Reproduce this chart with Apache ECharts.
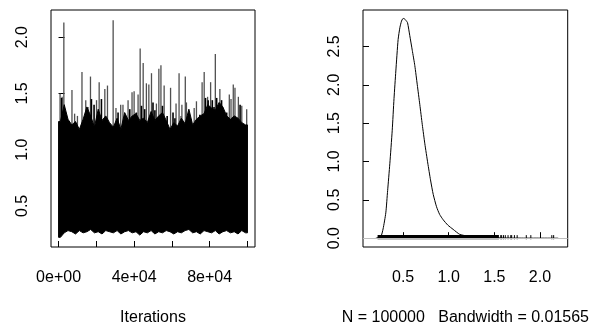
<!DOCTYPE html>
<html><head><meta charset="utf-8">
<script src="https://cdn.jsdelivr.net/npm/echarts@6/dist/echarts.min.js"></script>
<style>html,body{margin:0;padding:0;background:#fff}#c{width:592px;height:331px}</style>
</head><body><div id="c"></div>
<script>
// ---- Trace panel data ----
const coreIter = [0,2000,4000,6000,8000,10000,12000,14000,16000,18000,20000,22000,24000,26000,28000,30000,32000,34000,36000,38000,40000,42000,44000,46000,48000,50000,52000,54000,56000,58000,60000,62000,64000,66000,68000,70000,72000,74000,76000,78000,80000,82000,84000,86000,88000,90000,92000,94000,96000,98000];
const coreTop = [1.25,1.40,1.27,1.22,1.25,1.18,1.27,1.38,1.30,1.20,1.36,1.26,1.30,1.24,1.20,1.28,1.18,1.33,1.26,1.30,1.32,1.26,1.28,1.24,1.34,1.26,1.30,1.33,1.26,1.18,1.24,1.21,1.28,1.23,1.36,1.22,1.27,1.30,1.32,1.40,1.37,1.35,1.42,1.38,1.30,1.27,1.30,1.28,1.24,1.22];
const coreLow = [0.22,0.26,0.28,0.27,0.25,0.28,0.26,0.27,0.29,0.26,0.27,0.25,0.28,0.27,0.26,0.28,0.25,0.27,0.28,0.26,0.27,0.24,0.27,0.26,0.28,0.25,0.27,0.26,0.28,0.27,0.25,0.27,0.26,0.28,0.29,0.26,0.27,0.25,0.28,0.27,0.26,0.28,0.25,0.27,0.28,0.26,0.27,0.25,0.28,0.26];
// tall isolated excursions (thin grey strokes)
const spikeIter = [800,1900,2800,7100,8500,10000,12400,14400,15600,16900,20100,21500,24500,25900,28900,30400,32900,34100,36800,38900,40000,42100,43200,44800,46500,47800,49200,51800,53100,54200,55900,59300,62200,63800,64800,65300,67100,67700,71800,73000,76000,77100,78900,80500,83000,85400,90400,91300,92500,93400,95200,97000,99600];
const spikeTop = [1.50,1.47,2.13,1.53,1.32,1.30,1.69,1.44,1.38,1.65,1.44,1.60,1.54,1.57,2.15,1.37,1.40,1.40,1.44,1.51,1.52,1.49,1.90,1.77,1.59,1.58,1.68,1.41,1.72,1.75,1.57,1.55,1.41,1.68,1.30,1.40,1.65,1.42,1.37,1.43,1.60,1.69,1.47,1.60,1.85,1.54,1.49,1.45,1.58,1.55,1.47,1.39,1.36];
// shorter dense excursions (black strokes)
const burstIter = [1600,17400,18800,22700,31500,37700,41200,43900,45600,50000,51000,55000,57500,60600,61600,68600,70000,74800,77800,79200,81400,82300,83700,86300,87400,89000,96100];
const burstTop = [1.46,1.45,1.40,1.45,1.33,1.36,1.33,1.39,1.36,1.42,1.35,1.39,1.30,1.33,1.28,1.28,1.27,1.31,1.46,1.44,1.44,1.38,1.46,1.44,1.34,1.33,1.40];
const traceXTicks = [0,20000,40000,60000,80000,100000];
const traceXLabels = ['0e+00','','4e+04','','8e+04',''];
const traceYTicks = [0.5,1.0,1.5,2.0];

// ---- Density panel data ----
const densX = [0.20,0.255,0.28,0.31,0.33,0.354,0.38,0.40,0.42,0.445,0.465,0.482,0.495,0.508,0.53,0.548,0.573,0.60,0.628,0.655,0.683,0.71,0.738,0.77,0.80,0.83,0.866,0.90,0.939,0.99,1.048,1.12,1.195,1.30,1.45,1.60,1.80,2.00,2.20];
const densY = [0.0,0.02,0.12,0.33,0.62,0.97,1.40,1.82,2.18,2.59,2.75,2.83,2.86,2.865,2.84,2.81,2.64,2.45,2.25,2.00,1.74,1.48,1.23,0.98,0.76,0.57,0.41,0.31,0.24,0.17,0.115,0.05,0.03,0.015,0.006,0.003,0.001,0.0005,0.0];
const rugDense = [0.22,1.55];
const rugSparse = [1.57,1.58,1.60,1.62,1.65,1.68,1.69,1.72,1.75,1.85,1.90,2.13,2.15];
const densXTicks = [0.5,1.0,1.5,2.0];
const densYTicks = [0.0,0.5,1.0,1.5,2.0,2.5];

const FONT = "'Liberation Sans', Arial, sans-serif";
const chart = echarts.init(document.getElementById('c'), null, {renderer:'canvas'});
const colStep = coreIter[1]-coreIter[0];
const traceEnd = coreIter[coreIter.length-1] + colStep;

function fmt1(v){ return v.toFixed(1); }

const axisCommon = {
  axisLine:{show:false},
  splitLine:{show:false},
  axisTick:{show:true, inside:true, length:6, lineStyle:{color:'#000', width:1}},
  axisLabel:{color:'#000', fontSize:16, fontFamily:FONT}
};

function strokeSeries(iters, tops, color, width, z){
  return {
    type:'custom', xAxisIndex:0, yAxisIndex:0, clip:true, z:z,
    data: iters.map((it,i)=>[it, 1.0, tops[i]]),
    encode:{x:0, y:[1,2]},
    renderItem:function(params, api){
      const a = api.coord([api.value(0), api.value(1)]);
      const b = api.coord([api.value(0), api.value(2)]);
      return {type:'line', shape:{x1:a[0], y1:a[1], x2:b[0], y2:b[1]}, style:{stroke:color, lineWidth:width}};
    }
  };
}

chart.setOption({
  animation:false,
  grid:[
    {left:51, top:10, width:204, height:242, show:true, borderColor:'#000', borderWidth:1, containLabel:false},
    {left:363, top:10, width:205, height:242, show:true, borderColor:'#000', borderWidth:1, containLabel:false}
  ],
  xAxis:[
    Object.assign({}, axisCommon, {gridIndex:0, type:'value', min:-4000, max:104000,
      name:'Iterations', nameLocation:'middle', nameGap:63,
      nameTextStyle:{color:'#000', fontSize:16, fontFamily:FONT},
      axisTick:Object.assign({}, axisCommon.axisTick, {customValues:traceXTicks}),
      axisLabel:Object.assign({}, axisCommon.axisLabel, {margin:23, customValues:traceXTicks.filter((v,i)=>traceXLabels[i]!==''),
        formatter:function(v){ const i = traceXTicks.indexOf(v); return i>=0 ? traceXLabels[i] : ''; }})
    }),
    Object.assign({}, axisCommon, {gridIndex:1, type:'value', min:0.06, max:2.304,
      name:'N = 100000   Bandwidth = 0.01565', nameLocation:'middle', nameGap:63,
      nameTextStyle:{color:'#000', fontSize:16, fontFamily:FONT},
      axisTick:Object.assign({}, axisCommon.axisTick, {customValues:densXTicks}),
      axisLabel:Object.assign({}, axisCommon.axisLabel, {margin:23, customValues:densXTicks, formatter:fmt1})
    })
  ],
  yAxis:[
    Object.assign({}, axisCommon, {gridIndex:0, type:'value', min:0.134, max:2.242,
      axisTick:Object.assign({}, axisCommon.axisTick, {customValues:traceYTicks}),
      axisLabel:Object.assign({}, axisCommon.axisLabel, {rotate:90, margin:20, customValues:traceYTicks, formatter:fmt1})
    }),
    Object.assign({}, axisCommon, {gridIndex:1, type:'value', min:-0.115, max:2.975,
      axisTick:Object.assign({}, axisCommon.axisTick, {customValues:densYTicks}),
      axisLabel:Object.assign({}, axisCommon.axisLabel, {rotate:90, margin:20, customValues:densYTicks, formatter:fmt1})
    })
  ],
  series:[
    strokeSeries(spikeIter, spikeTop, '#505050', 1.3, 1),
    strokeSeries(burstIter, burstTop, '#000', 1.6, 1),
    { // core band of trace, as one polygon through the column extremes
      type:'custom', xAxisIndex:0, yAxisIndex:0, clip:true, z:2,
      data: coreIter.map((it,i)=>[it, coreLow[i], coreTop[i]]),
      encode:{x:0, y:[1,2]},
      renderItem:function(params, api){
        if (params.dataIndex !== 0) return null;
        const pts = [];
        pts.push(api.coord([coreIter[0], coreTop[0]]));
        for (let k=0;k<coreIter.length;k++) pts.push(api.coord([coreIter[k]+colStep/2, coreTop[k]]));
        pts.push(api.coord([traceEnd, coreTop[coreTop.length-1]]));
        pts.push(api.coord([traceEnd, coreLow[coreLow.length-1]]));
        for (let k=coreIter.length-1;k>=0;k--) pts.push(api.coord([coreIter[k]+colStep/2, coreLow[k]]));
        pts.push(api.coord([coreIter[0], coreLow[0]]));
        return {type:'polygon', shape:{points:pts}, style:{fill:'#000', stroke:'#000', lineWidth:1}};
      }
    },
    { // density curve
      type:'line', xAxisIndex:1, yAxisIndex:1, showSymbol:false, smooth:0.2,
      data: densX.map((x,i)=>[x, densY[i]]),
      lineStyle:{color:'#000', width:1},
      markLine:{silent:true, symbol:['none','none'], label:{show:false},
        lineStyle:{color:'#bebebe', width:1, type:'solid'}, data:[{yAxis:0}]},
      z:3
    },
    { // rug dense part
      type:'custom', xAxisIndex:1, yAxisIndex:1, clip:true, z:4,
      data:[[rugDense[0], rugDense[1]]],
      encode:{x:[0,1]},
      renderItem:function(params, api){
        const a = api.coord([api.value(0), 0.04]);
        const b = api.coord([api.value(1), -0.014]);
        return {type:'rect', shape:{x:a[0], y:a[1], width:b[0]-a[0], height:b[1]-a[1]}, style:{fill:'#000'}};
      }
    },
    { // rug sparse ticks
      type:'custom', xAxisIndex:1, yAxisIndex:1, clip:true, z:4,
      data: rugSparse.map(v=>[v]),
      encode:{x:0},
      renderItem:function(params, api){
        const a = api.coord([api.value(0), 0.04]);
        const b = api.coord([api.value(0), -0.014]);
        return {type:'line', shape:{x1:a[0], y1:a[1], x2:b[0], y2:b[1]}, style:{stroke:'#000', lineWidth:1}};
      }
    }
  ]
});
</script></body></html>
